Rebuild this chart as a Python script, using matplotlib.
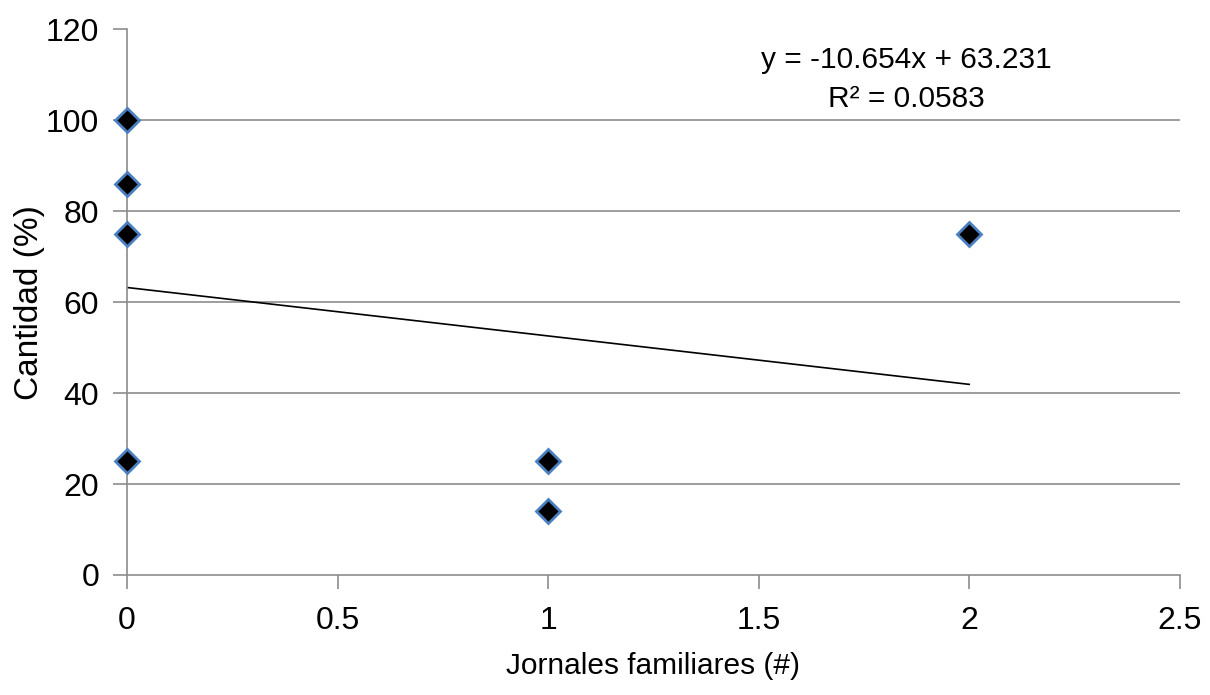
import numpy as np
import matplotlib
matplotlib.use("Agg")
import matplotlib.pyplot as plt

plt.rcParams['font.family'] = ['Liberation Sans', 'DejaVu Sans']

# datos
jornales = [0, 0, 0, 0, 1, 1, 2]
cantidad = [100, 86, 75, 25, 25, 14, 75]
ecuacion = "y = -10.654x + 63.231\nR² = 0.0583"
xticks = [0, 0.5, 1, 1.5, 2, 2.5]
xtick_labels = ["0", "0.5", "1", "1.5", "2", "2.5"]
yticks = [0, 20, 40, 60, 80, 100, 120]

gris = "#8c8c8c"

fig = plt.figure(figsize=(12.1, 6.95), dpi=100)
ax = fig.add_axes([0.105, 0.1727, 0.87, 0.785])

# linea de tendencia (minimos cuadrados)
m, b = np.polyfit(jornales, cantidad, 1)
xt = np.array([min(jornales), max(jornales)])
ax.plot(xt, m * xt + b, color="black", lw=1.2, zorder=2)

ax.plot(jornales, cantidad, linestyle="none", marker="D", markersize=12,
        markerfacecolor="black", markeredgecolor="#4a7fc1", markeredgewidth=2,
        zorder=3, clip_on=False)

ax.set_xlim(0, 2.5)
ax.set_ylim(0, 120)
ax.set_xticks(xticks)
ax.set_xticklabels(xtick_labels)
ax.set_yticks(yticks)

ax.yaxis.grid(True, color=gris, lw=1.2)
ax.get_ygridlines()[-1].set_visible(False)
ax.get_ygridlines()[0].set_visible(False)

for s in ["top", "right"]:
    ax.spines[s].set_visible(False)
for s in ["left", "bottom"]:
    ax.spines[s].set_color(gris)
    ax.spines[s].set_linewidth(1.2)

ax.tick_params(axis="both", colors=gris, width=1.2, length=10, labelsize=23, labelcolor="black")
ax.tick_params(axis="y", pad=10)
ax.tick_params(axis="x", pad=12)

ax.set_xlabel("Jornales familiares (#)", fontsize=21.5)
ax.xaxis.label.set_va("center")
ax.xaxis.set_label_coords(0.5, -0.167)
ax.set_ylabel("Cantidad (%)", fontsize=24)
ax.yaxis.label.set_va("center")
ax.yaxis.set_label_coords(-0.093, 0.5)

ax.text(1.85, 116.3, ecuacion, ha="center", va="top", fontsize=21.5, linespacing=1.5)

fig.savefig("out.png", dpi=100)
